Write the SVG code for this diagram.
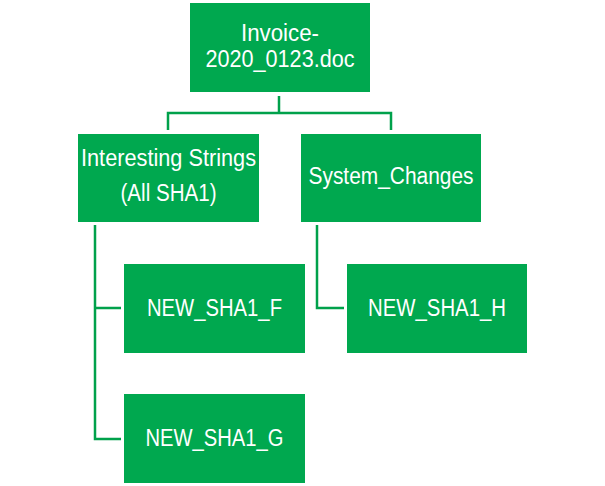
<svg xmlns="http://www.w3.org/2000/svg" width="605" height="486" viewBox="0 0 605 486">
<style>
.box{fill:#00A84F}
.t{fill:#fff;font-family:"Liberation Sans",Arial,sans-serif;font-size:23px;text-anchor:middle}
.c{fill:none;stroke:#00A14B;stroke-width:2.5}
</style>
<rect width="605" height="486" fill="#fff"/>
<g id="connectors">
<path class="c" d="M279 96 V113 M168 130 V113 H391 V130"/>
<path class="c" d="M95 225 V439 H121 M95 308 H121"/>
<path class="c" d="M317 225 V308 H344"/>
</g>
<g id="root">
<rect class="box" x="190" y="3" width="180" height="89"/>
<text class="t" x="280" y="41" textLength="78" lengthAdjust="spacingAndGlyphs">Invoice-</text>
<text class="t" x="280" y="67" textLength="149" lengthAdjust="spacingAndGlyphs">2020_0123.doc</text>
</g>
<g id="interesting">
<rect class="box" x="78" y="134" width="181" height="88"/>
<text class="t" x="168.5" y="166" textLength="175" lengthAdjust="spacingAndGlyphs">Interesting Strings</text>
<text class="t" x="168.5" y="201" textLength="96" lengthAdjust="spacingAndGlyphs">(All SHA1)</text>
</g>
<g id="system">
<rect class="box" x="301" y="134" width="180" height="88"/>
<text class="t" x="391" y="184" textLength="165" lengthAdjust="spacingAndGlyphs">System_Changes</text>
</g>
<g id="f">
<rect class="box" x="124" y="264" width="181" height="89"/>
<text class="t" x="214.5" y="316" textLength="135" lengthAdjust="spacingAndGlyphs">NEW_SHA1_F</text>
</g>
<g id="g">
<rect class="box" x="124" y="394" width="181" height="89"/>
<text class="t" x="214.5" y="446" textLength="138" lengthAdjust="spacingAndGlyphs">NEW_SHA1_G</text>
</g>
<g id="h">
<rect class="box" x="347" y="264" width="180" height="89"/>
<text class="t" x="437" y="316" textLength="138" lengthAdjust="spacingAndGlyphs">NEW_SHA1_H</text>
</g>
</svg>
